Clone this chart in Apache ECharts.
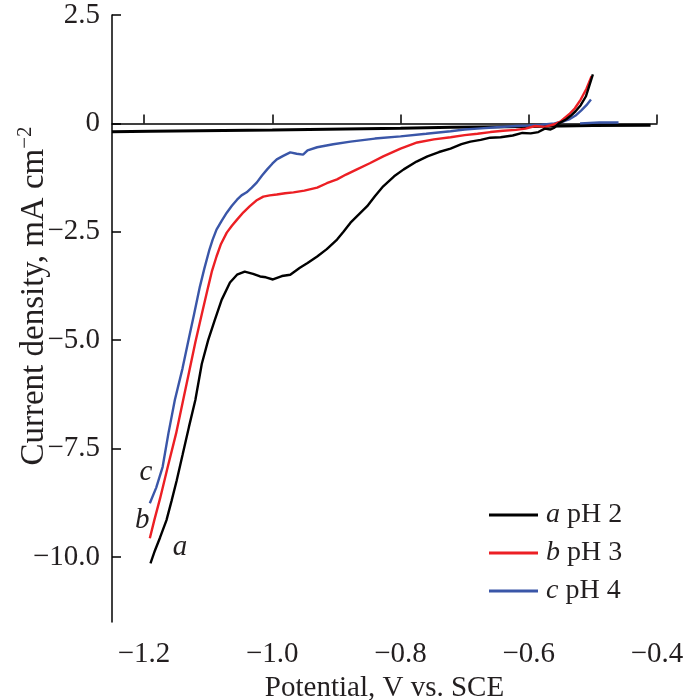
<!DOCTYPE html>
<html>
<head>
<meta charset="utf-8">
<script src="https://cdn.jsdelivr.net/npm/echarts@6/dist/echarts.min.js"></script>
<style>html,body{margin:0;padding:0;background:#fff}#c{width:685px;height:700px}</style>
</head>
<body>
<div id="c"></div>
<script>
// ---- data ----
const potentialA = [-0.500,-0.506,-0.511,-0.519,-0.527,-0.535,-0.542,-0.553,-0.560,-0.566,-0.575,-0.585,-0.597,-0.610,-0.625,-0.644,-0.660,-0.675,-0.691,-0.705,-0.722,-0.740,-0.758,-0.775,-0.795,-0.810,-0.827,-0.840,-0.852,-0.865,-0.878,-0.889,-0.899,-0.915,-0.930,-0.945,-0.957,-0.972,-0.985,-0.999,-1.010,-1.019,-1.030,-1.043,-1.055,-1.066,-1.079,-1.090,-1.100,-1.110,-1.120,-1.130,-1.140,-1.149,-1.157,-1.165,-1.175,-1.183,-1.190];
const currentA   = [1.13,0.85,0.62,0.42,0.28,0.17,0.09,0.00,-0.10,-0.14,-0.12,-0.20,-0.23,-0.22,-0.28,-0.32,-0.33,-0.38,-0.42,-0.48,-0.58,-0.66,-0.76,-0.88,-1.06,-1.22,-1.45,-1.68,-1.91,-2.10,-2.29,-2.50,-2.68,-2.90,-3.07,-3.22,-3.33,-3.49,-3.52,-3.60,-3.55,-3.53,-3.47,-3.42,-3.49,-3.67,-4.07,-4.55,-5.00,-5.55,-6.38,-7.00,-7.65,-8.23,-8.70,-9.15,-9.55,-9.85,-10.15];

const potentialB = [-0.502,-0.510,-0.519,-0.528,-0.537,-0.550,-0.560,-0.575,-0.590,-0.605,-0.620,-0.640,-0.660,-0.680,-0.700,-0.722,-0.748,-0.774,-0.800,-0.827,-0.848,-0.868,-0.885,-0.899,-0.915,-0.930,-0.950,-0.967,-0.980,-0.993,-1.004,-1.014,-1.025,-1.035,-1.045,-1.055,-1.063,-1.071,-1.080,-1.087,-1.094,-1.100,-1.110,-1.120,-1.130,-1.139,-1.150,-1.163,-1.175,-1.184,-1.191];
const currentB   = [1.09,0.80,0.55,0.35,0.21,0.05,-0.02,-0.08,-0.06,-0.12,-0.15,-0.17,-0.20,-0.24,-0.27,-0.32,-0.37,-0.44,-0.58,-0.76,-0.92,-1.06,-1.18,-1.29,-1.38,-1.48,-1.55,-1.59,-1.61,-1.64,-1.66,-1.69,-1.78,-1.91,-2.05,-2.22,-2.36,-2.52,-2.78,-3.07,-3.40,-3.77,-4.40,-5.05,-5.75,-6.38,-7.15,-7.92,-8.65,-9.15,-9.57];

const potentialC = [-0.503,-0.510,-0.518,-0.527,-0.536,-0.545,-0.560,-0.580,-0.600,-0.620,-0.650,-0.680,-0.700,-0.722,-0.760,-0.800,-0.840,-0.878,-0.905,-0.930,-0.945,-0.952,-0.962,-0.972,-0.983,-0.993,-1.000,-1.008,-1.016,-1.024,-1.032,-1.040,-1.048,-1.055,-1.063,-1.071,-1.079,-1.087,-1.093,-1.098,-1.106,-1.113,-1.122,-1.130,-1.140,-1.152,-1.162,-1.171,-1.181,-1.191];
const currentC   = [0.55,0.42,0.30,0.18,0.10,0.05,0.00,-0.03,-0.05,-0.06,-0.09,-0.12,-0.14,-0.18,-0.24,-0.30,-0.35,-0.42,-0.48,-0.55,-0.62,-0.72,-0.70,-0.67,-0.75,-0.83,-0.93,-1.06,-1.20,-1.36,-1.48,-1.59,-1.66,-1.76,-1.90,-2.06,-2.25,-2.45,-2.68,-2.91,-3.35,-3.77,-4.40,-4.95,-5.65,-6.38,-7.15,-7.92,-8.40,-8.76];

// return-scan traces
const potentialBaseA = [-1.25,-1.19,-1.00,-0.80,-0.72,-0.60,-0.50,-0.41];
const currentBaseA   = [-0.19,-0.18,-0.15,-0.11,-0.09,-0.07,-0.05,-0.04];
const potentialBaseC = [-0.52,-0.49,-0.46];
const currentBaseC   = [0.00,0.02,0.02];

const xTicks = [-1.2,-1.0,-0.8,-0.6,-0.4];
const yTicks = [2.5,0,-2.5,-5.0,-7.5,-10.0];
const seriesNames = ['a','b','c'];
const legendTexts = ['pH 2','pH 3','pH 4'];
const xAxisTitle = 'Potential, V vs. SCE';
const yAxisTitle = 'Current density, mA cm';
const yAxisTitleSup = '\u22122';
// curve-end annotations: [potential, current]
const annotationNames = ['a','b','c'];
const annotationPos = [[-1.144,-9.77],[-1.203,-9.15],[-1.197,-8.04]];

// ---- chart ----
const FONT = '"Liberation Serif","Times New Roman",serif';
const TXT = '#231f20';
const colors = ['#000000','#ec1f24','#3a56a8'];
const zip = (xs, ys) => xs.map((x, i) => [x, ys[i]]);
const minus = v => (v < 0 ? '\u2212' : '') + Math.abs(v).toFixed(1);

const chart = echarts.init(document.getElementById('c'), null, {renderer: 'canvas'});
const lineSeries = (name, xs, ys, color, extra) => Object.assign({
  name, type: 'line', data: zip(xs, ys), showSymbol: false, symbol: 'none',
  lineStyle: {color, width: 2.4}, itemStyle: {color}, animation: false, z: 3
}, extra || {});

chart.setOption({
  animation: false,
  grid: {left: 112, right: 28, top: 15, bottom: 78, containLabel: false, outerBoundsMode: 'none'},
  xAxis: {
    type: 'value', min: -1.25, max: -0.4,
    name: xAxisTitle, nameLocation: 'middle', nameGap: 36,
    nameTextStyle: {fontFamily: FONT, fontSize: 29, color: TXT},
    axisLine: {show: true, lineStyle: {color: '#000', width: 1.5}},
    axisTick: {show: true, inside: true, length: 9, customValues: xTicks, lineStyle: {color: '#000', width: 1.5}},
    axisLabel: {customValues: xTicks, formatter: v => minus(v), fontFamily: FONT, fontSize: 29, color: TXT, margin: 18},
    splitLine: {show: false}
  },
  yAxis: {
    type: 'value', min: -11.5, max: 2.5,
    axisLine: {show: true, lineStyle: {color: '#000', width: 1.5}},
    axisTick: {show: true, inside: true, length: 9, customValues: yTicks, lineStyle: {color: '#000', width: 1.5}},
    axisLabel: {customValues: yTicks, formatter: v => (v === 0 ? '0' : minus(v)), fontFamily: FONT, fontSize: 29, color: TXT, margin: 12},
    splitLine: {show: false}
  },
  graphic: [{
    type: 'text', x: 34, y: 296, rotation: Math.PI / 2, silent: true,
    style: {
      text: '{m|' + yAxisTitle + '}{s|' + yAxisTitleSup + '}',
      align: 'center', verticalAlign: 'middle', fill: TXT, fontFamily: FONT, fontSize: 33,
      rich: {m: {fontFamily: FONT, fontSize: 33, fill: TXT, lineHeight: 38},
             s: {fontFamily: FONT, fontSize: 21, fill: TXT, verticalAlign: 'top', lineHeight: 23}}
    }
  }],
  legend: {
    data: seriesNames, orient: 'vertical', left: 484, top: 496,
    icon: 'rect', itemWidth: 49, itemHeight: 3, itemGap: 10,
    formatter: n => '{i|' + n + '}{t| ' + legendTexts[seriesNames.indexOf(n)] + '}',
    textStyle: {fontFamily: FONT, fontSize: 28, color: TXT,
      rich: {i: {fontFamily: FONT, fontSize: 28, fontStyle: 'italic', color: TXT, padding: [0, 0, 0, 3]},
             t: {fontFamily: FONT, fontSize: 28, color: TXT}}}
  },
  series: [
    lineSeries('baseA', potentialBaseA, currentBaseA, colors[0], {lineStyle: {color: colors[0], width: 3}}),
    lineSeries('baseC', potentialBaseC, currentBaseC, colors[2]),
    lineSeries(seriesNames[2], potentialC, currentC, colors[2]),
    lineSeries(seriesNames[1], potentialB, currentB, colors[1]),
    lineSeries(seriesNames[0], potentialA, currentA, colors[0], {
      markPoint: {
        symbol: 'circle', symbolSize: 1, itemStyle: {color: 'rgba(0,0,0,0)'},
        label: {show: true, position: 'inside', fontFamily: FONT, fontSize: 29, fontStyle: 'italic', color: TXT,
                formatter: p => p.name},
        data: annotationNames.map((n, i) => ({name: n, coord: annotationPos[i]}))
      }
    })
  ]
});
</script>
</body>
</html>
